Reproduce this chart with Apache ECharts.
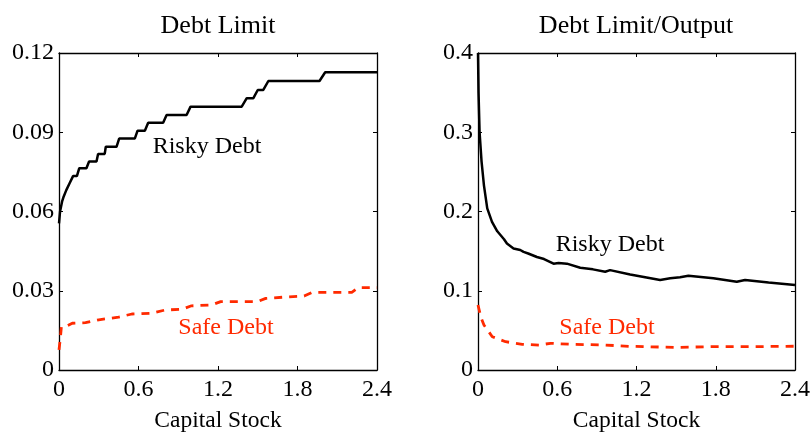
<!DOCTYPE html>
<html>
<head>
<meta charset="utf-8">
<script src="https://cdn.jsdelivr.net/npm/echarts@6/dist/echarts.min.js"></script>
<style>html,body{margin:0;padding:0;background:#fff}#c{width:811px;height:433px}</style>
</head>
<body>
<div id="c"></div>
<script>
// ---- data ----
const titles = ['Debt Limit', 'Debt Limit/Output'];
const xName = 'Capital Stock';
const xTickLabels = ['0', '0.6', '1.2', '1.8', '2.4'];
const leftYTickLabels = ['0', '0.03', '0.06', '0.09', '0.12'];
const rightYTickLabels = ['0', '0.1', '0.2', '0.3', '0.4'];
const seriesNames = ['Risky Debt', 'Safe Debt'];

const leftRiskyX = [0, 0.008, 0.023, 0.035, 0.043, 0.055, 0.068, 0.08, 0.094, 0.106, 0.135, 0.153, 0.207, 0.227, 0.283, 0.295, 0.345, 0.353, 0.434, 0.454, 0.572, 0.593, 0.648, 0.673, 0.786, 0.812, 0.963, 0.993, 1.379, 1.417, 1.467, 1.5, 1.542, 1.58, 1.966, 2.009, 2.4];
const leftRiskyY = [0.0555, 0.060, 0.0637, 0.0656, 0.0656, 0.0681, 0.0681, 0.0707, 0.0707, 0.0734, 0.0734, 0.0764, 0.0764, 0.0789, 0.0789, 0.0818, 0.0818, 0.0845, 0.0845, 0.0876, 0.0876, 0.0906, 0.0906, 0.0936, 0.0936, 0.0965, 0.0965, 0.0997, 0.0997, 0.1029, 0.1029, 0.106, 0.106, 0.1094, 0.1094, 0.1127, 0.1127];

const leftSafeX = [0, 0.01, 0.018, 0.06, 0.1, 0.2, 0.3, 0.45, 0.55, 0.7, 0.8, 0.93, 1.0, 1.15, 1.22, 1.5, 1.56, 1.73, 1.85, 1.91, 2.21, 2.26, 2.4];
const leftSafeY = [0.0076, 0.012, 0.0164, 0.0167, 0.0177, 0.0179, 0.019, 0.020, 0.0212, 0.0215, 0.0227, 0.023, 0.0243, 0.0246, 0.0259, 0.0259, 0.0271, 0.0277, 0.028, 0.0294, 0.0294, 0.0312, 0.0312];

const rightRiskyX = [0, 0.004, 0.012, 0.027, 0.045, 0.07, 0.106, 0.146, 0.197, 0.219, 0.269, 0.32, 0.345, 0.38, 0.446, 0.5, 0.572, 0.61, 0.673, 0.774, 0.87, 0.963, 1.0, 1.152, 1.379, 1.455, 1.53, 1.593, 1.782, 1.959, 2.022, 2.2, 2.4];
const rightRiskyY = [0.4, 0.35, 0.30, 0.263, 0.233, 0.204, 0.187, 0.175, 0.165, 0.1596, 0.1534, 0.1514, 0.149, 0.147, 0.1426, 0.140, 0.1342, 0.135, 0.1342, 0.129, 0.127, 0.124, 0.126, 0.1204, 0.1136, 0.1157, 0.117, 0.119, 0.1157, 0.1114, 0.1136, 0.1105, 0.1073];

const rightSafeX = [0, 0.01, 0.02, 0.045, 0.108, 0.209, 0.335, 0.461, 0.549, 0.713, 0.965, 1.142, 1.5, 1.8, 2.1, 2.4];
const rightSafeY = [0.082, 0.075, 0.0673, 0.0568, 0.042, 0.0357, 0.0324, 0.0315, 0.0337, 0.0324, 0.0315, 0.0299, 0.0285, 0.0295, 0.0295, 0.030];

// ---- chart ----
const FONT = "'Liberation Serif', 'Times New Roman', serif";
const RED = '#ff2a00';
const pairs = (xs, ys) => xs.map((x, i) => [x, ys[i]]);
const chart = echarts.init(document.getElementById('c'), null, {renderer: 'canvas'});

const grids = [
  {left: 59, top: 53, width: 318, height: 317, containLabel: false, outerBoundsMode: 'none'},
  {left: 478, top: 53, width: 317, height: 317, containLabel: false, outerBoundsMode: 'none'}
];
const axisLine = {show: true, onZero: false, lineStyle: {color: '#000', width: 1.3}};
const tick = {show: true, inside: true, length: 4, lineStyle: {color: '#000', width: 1}};

function xAxes(gi) {
  return [
    {gridIndex: gi, type: 'value', min: 0, max: 2.4, interval: 0.6, position: 'bottom',
     name: xName, nameLocation: 'middle', nameGap: 39,
     nameTextStyle: {fontFamily: FONT, fontSize: 23.5, color: '#000'},
     axisLine, axisTick: tick, splitLine: {show: false},
     axisLabel: {fontFamily: FONT, fontSize: 24, color: '#000', margin: 8,
       formatter: (v, i) => xTickLabels[i]}},
    {gridIndex: gi, type: 'value', min: 0, max: 2.4, interval: 0.6, position: 'top',
     axisLine, axisTick: tick, splitLine: {show: false}, axisLabel: {show: false}}
  ];
}
function yAxes(gi, max, interval, labels) {
  return [
    {gridIndex: gi, type: 'value', min: 0, max, interval, position: 'left',
     axisLine, axisTick: tick, splitLine: {show: false},
     axisLabel: {fontFamily: FONT, fontSize: 24, color: '#000', margin: 5,
       formatter: (v, i) => labels[i]}},
    {gridIndex: gi, type: 'value', min: 0, max, interval, position: 'right',
     axisLine, axisTick: tick, splitLine: {show: false}, axisLabel: {show: false}}
  ];
}

const blackLine = {color: '#000', width: 2.5};
const redLine = {color: RED, width: 2.8, type: [8, 7]};

const textEl = (text, x, y, size, color) => ({
  type: 'text', x, y, silent: true,
  style: {text, fill: color, font: size + 'px ' + FONT, align: 'center', verticalAlign: 'middle'}
});

chart.setOption({
  backgroundColor: '#fff',
  animation: false,
  grid: grids,
  xAxis: [...xAxes(0), ...xAxes(1)],
  yAxis: [...yAxes(0, 0.12, 0.03, leftYTickLabels), ...yAxes(1, 0.4, 0.1, rightYTickLabels)],
  series: [
    {name: seriesNames[0], type: 'line', xAxisIndex: 0, yAxisIndex: 0, showSymbol: false,
     data: pairs(leftRiskyX, leftRiskyY), lineStyle: blackLine, itemStyle: {color: '#000'}},
    {name: seriesNames[1], type: 'line', xAxisIndex: 0, yAxisIndex: 0, showSymbol: false,
     data: pairs(leftSafeX, leftSafeY), lineStyle: redLine, itemStyle: {color: RED}},
    {name: seriesNames[0], type: 'line', xAxisIndex: 2, yAxisIndex: 2, showSymbol: false,
     data: pairs(rightRiskyX, rightRiskyY), lineStyle: blackLine, itemStyle: {color: '#000'}},
    {name: seriesNames[1], type: 'line', xAxisIndex: 2, yAxisIndex: 2, showSymbol: false,
     data: pairs(rightSafeX, rightSafeY), lineStyle: redLine, itemStyle: {color: RED}}
  ],
  graphic: [
    textEl(titles[0], 218, 26, 26, '#000'),
    textEl(titles[1], 636, 26, 26, '#000'),
    textEl(seriesNames[0], 207, 147, 24, '#000'),
    textEl(seriesNames[1], 226, 328, 24, RED),
    textEl(seriesNames[0], 610, 245, 24, '#000'),
    textEl(seriesNames[1], 607, 328, 24, RED)
  ]
});
</script>
</body>
</html>
